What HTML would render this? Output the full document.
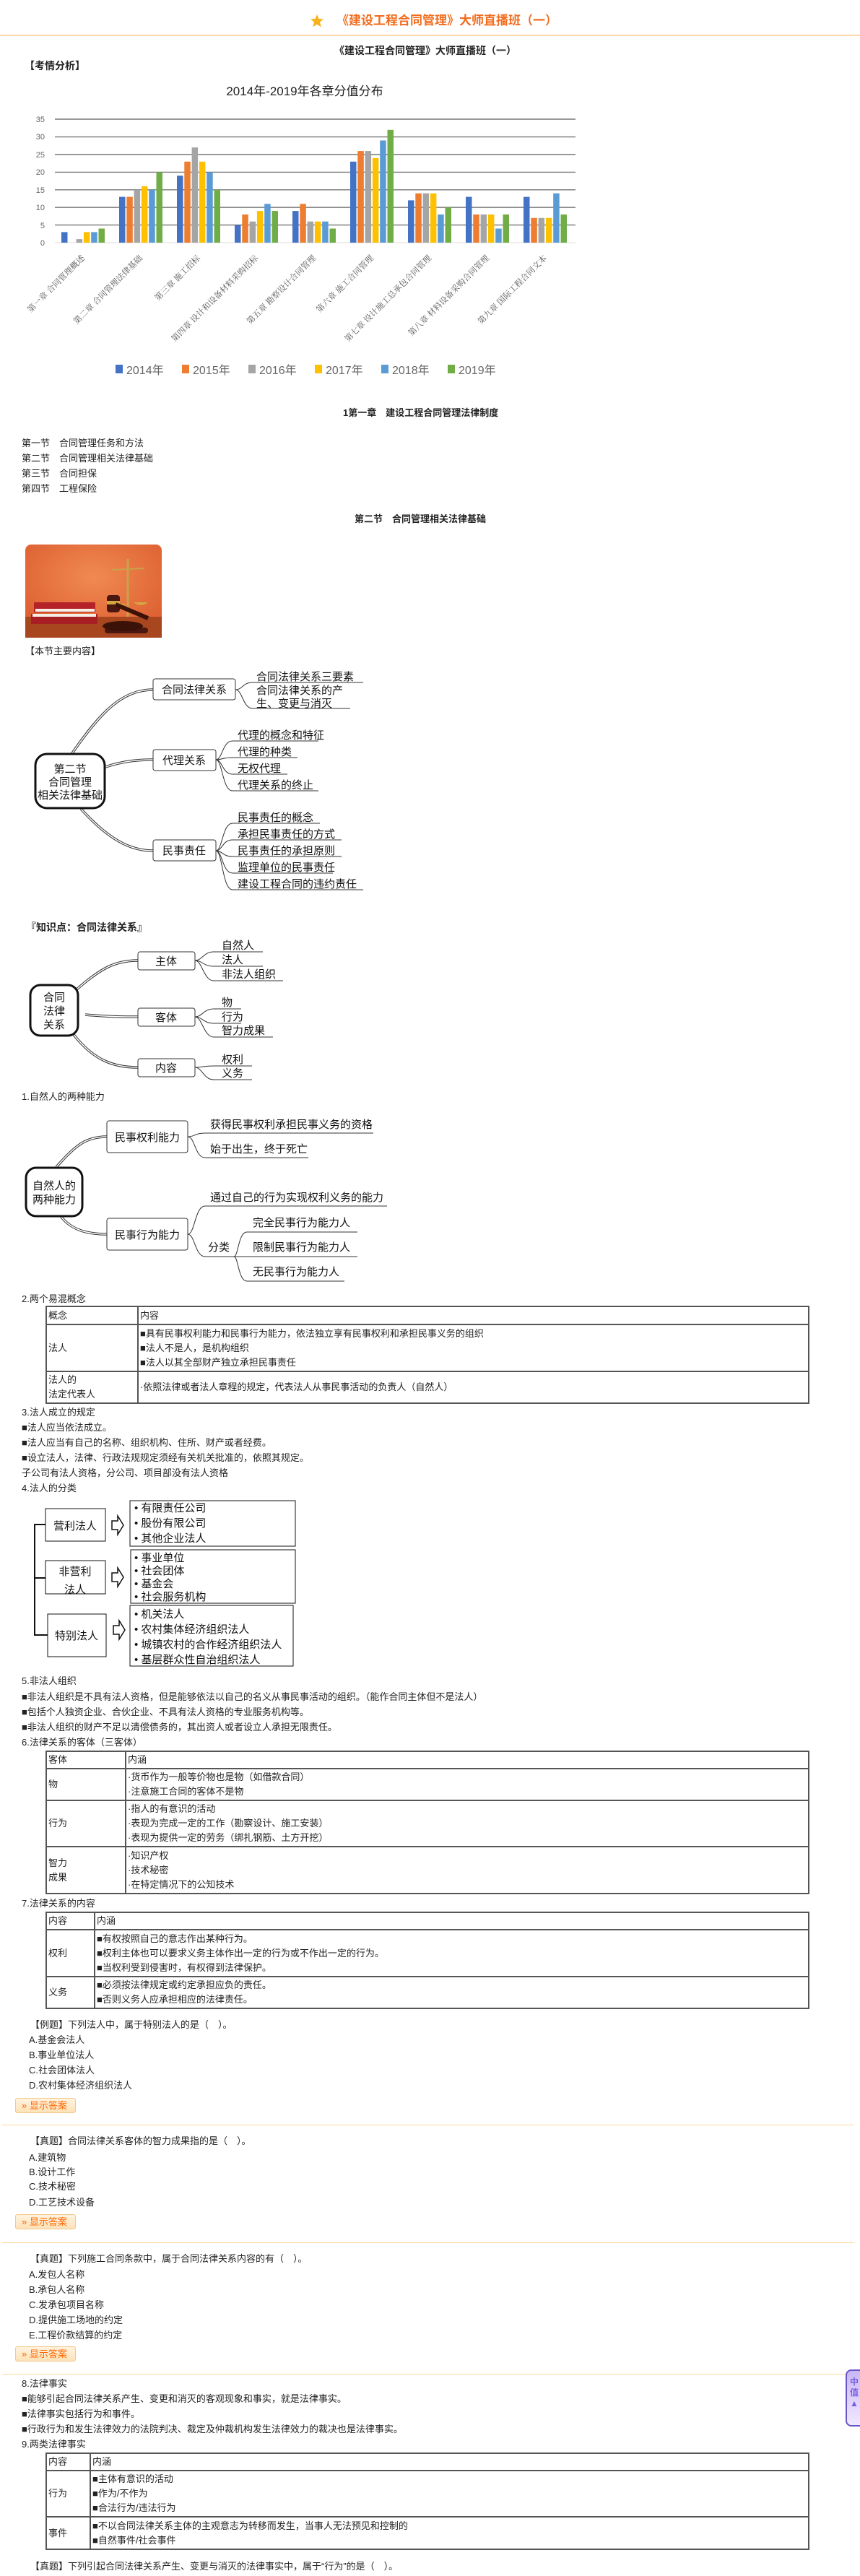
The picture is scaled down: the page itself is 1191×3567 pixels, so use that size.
<!DOCTYPE html>
<html><head><meta charset="utf-8">
<style>
*{margin:0;padding:0;box-sizing:border-box}
html,body{width:1191px;height:3567px;background:#fff;overflow:hidden}
body{position:relative;font-family:"Liberation Sans","Noto Sans CJK SC",sans-serif;color:#222}
.t{position:absolute;font-size:13px;line-height:18px;white-space:nowrap}
.b{font-weight:bold}
table{position:absolute;border-collapse:collapse;font-size:13px;line-height:20px}
td{border:2px solid #555;vertical-align:middle;padding:0 2px;white-space:nowrap}
.btn{position:absolute;width:84px;height:21px;border:1px solid #f3c88c;border-radius:3px;background:linear-gradient(#fff3df,#fde2b8);color:#f60;font-size:13px;line-height:19px;padding-left:8px}
.sep{position:absolute;left:3px;width:1180px;height:1px;background:#fdd9a0}
</style></head><body>

<svg style="position:absolute;left:429px;top:19px" width="20" height="20" viewBox="0 0 20 20"><polygon points="10,1 12.6,7 19,7.4 14,11.6 15.8,18.5 10,14.8 4.2,18.5 6,11.6 1,7.4 7.4,7" fill="#f7b21e"/></svg>
<div class="t b" style="left:466px;top:18px;font-size:17px;line-height:22px;color:#f36b1c">《建设工程合同管理》大师直播班（一）</div>
<div style="position:absolute;left:0;top:48px;width:1191px;height:2px;background:#fcd6a6"></div>
<div class="t b" style="left:463px;top:61px;font-size:14px;color:#222">《建设工程合同管理》大师直播班（一）</div>
<div class="t b" style="left:34px;top:82px;font-size:14px">【考情分析】</div>

<svg style="position:absolute;left:0;top:0" width="820" height="530" font-family="Liberation Sans,Noto Sans CJK SC,sans-serif">
<text x="422" y="132" font-size="17" text-anchor="middle" fill="#222">2014年-2019年各章分值分布</text>
<g stroke="#777" stroke-width="1.4">
<line x1="76" y1="165" x2="797" y2="165"/><line x1="76" y1="189.6" x2="797" y2="189.6"/>
<line x1="76" y1="214" x2="797" y2="214"/><line x1="76" y1="238.4" x2="797" y2="238.4"/>
<line x1="76" y1="262.8" x2="797" y2="262.8"/><line x1="76" y1="287.2" x2="797" y2="287.2"/>
<line x1="76" y1="311.6" x2="797" y2="311.6"/></g>
<line x1="76" y1="336" x2="797" y2="336" stroke="#ddd"/>
<g font-size="11" fill="#666" text-anchor="end">
<text x="62" y="169">35</text><text x="62" y="193">30</text><text x="62" y="218">25</text><text x="62" y="242">20</text><text x="62" y="267">15</text><text x="62" y="291">10</text><text x="62" y="316">5</text><text x="62" y="340">0</text></g>
<g font-size="11.5" fill="#555" font-family="Liberation Serif,Noto Serif CJK SC,serif" text-anchor="end">
<text transform="translate(118,358) rotate(-45)">第一章 合同管理概述</text>
<text transform="translate(198,358) rotate(-45)">第二章 合同管理法律基础</text>
<text transform="translate(278,358) rotate(-45)">第三章 施工招标</text>
<text transform="translate(358,358) rotate(-45)">第四章 设计和设备材料采购招标</text>
<text transform="translate(438,358) rotate(-45)">第五章 勘察设计合同管理</text>
<text transform="translate(518,358) rotate(-45)">第六章 施工合同管理</text>
<text transform="translate(598,358) rotate(-45)">第七章 设计施工总承包合同管理</text>
<text transform="translate(678,358) rotate(-45)">第八章 材料设备采购合同管理</text>
<text transform="translate(758,358) rotate(-45)">第九章 国际工程合同文本</text>
</g>
<g font-size="16" fill="#666">
<rect x="160" y="505" width="10" height="12" fill="#4472c4"/><text x="175" y="518">2014年</text>
<rect x="252" y="505" width="10" height="12" fill="#ed7d31"/><text x="267" y="518">2015年</text>
<rect x="344" y="505" width="10" height="12" fill="#a5a5a5"/><text x="359" y="518">2016年</text>
<rect x="436" y="505" width="10" height="12" fill="#ffc000"/><text x="451" y="518">2017年</text>
<rect x="528" y="505" width="10" height="12" fill="#5b9bd5"/><text x="543" y="518">2018年</text>
<rect x="620" y="505" width="10" height="12" fill="#70ad47"/><text x="635" y="518">2019年</text>
</g>
<g>
<rect x="85" y="321.4" width="8.5" height="14.6" fill="#4472c4"/><rect x="105.6" y="331.1" width="8.5" height="4.9" fill="#a5a5a5"/><rect x="115.9" y="321.4" width="8.5" height="14.6" fill="#ffc000"/><rect x="126.2" y="321.4" width="8.5" height="14.6" fill="#5b9bd5"/><rect x="136.5" y="316.5" width="8.5" height="19.5" fill="#70ad47"/>
<rect x="165" y="272.6" width="8.5" height="63.4" fill="#4472c4"/><rect x="175.3" y="272.6" width="8.5" height="63.4" fill="#ed7d31"/><rect x="185.6" y="262.8" width="8.5" height="73.2" fill="#a5a5a5"/><rect x="195.9" y="257.9" width="8.5" height="78.1" fill="#ffc000"/><rect x="206.2" y="262.8" width="8.5" height="73.2" fill="#5b9bd5"/><rect x="216.5" y="238.4" width="8.5" height="97.6" fill="#70ad47"/>
<rect x="245" y="243.3" width="8.5" height="92.7" fill="#4472c4"/><rect x="255.3" y="223.8" width="8.5" height="112.2" fill="#ed7d31"/><rect x="265.6" y="204.2" width="8.5" height="131.8" fill="#a5a5a5"/><rect x="275.9" y="223.8" width="8.5" height="112.2" fill="#ffc000"/><rect x="286.2" y="238.4" width="8.5" height="97.6" fill="#5b9bd5"/><rect x="296.5" y="262.8" width="8.5" height="73.2" fill="#70ad47"/>
<rect x="325" y="311.6" width="8.5" height="24.4" fill="#4472c4"/><rect x="335.3" y="297" width="8.5" height="39" fill="#ed7d31"/><rect x="345.6" y="306.7" width="8.5" height="29.3" fill="#a5a5a5"/><rect x="355.9" y="292.1" width="8.5" height="43.9" fill="#ffc000"/><rect x="366.2" y="282.3" width="8.5" height="53.7" fill="#5b9bd5"/><rect x="376.5" y="292.1" width="8.5" height="43.9" fill="#70ad47"/>
<rect x="405" y="292.1" width="8.5" height="43.9" fill="#4472c4"/><rect x="415.3" y="282.3" width="8.5" height="53.7" fill="#ed7d31"/><rect x="425.6" y="306.7" width="8.5" height="29.3" fill="#a5a5a5"/><rect x="435.9" y="306.7" width="8.5" height="29.3" fill="#ffc000"/><rect x="446.2" y="306.7" width="8.5" height="29.3" fill="#5b9bd5"/><rect x="456.5" y="316.5" width="8.5" height="19.5" fill="#70ad47"/>
<rect x="485" y="223.8" width="8.5" height="112.2" fill="#4472c4"/><rect x="495.3" y="209.1" width="8.5" height="126.9" fill="#ed7d31"/><rect x="505.6" y="209.1" width="8.5" height="126.9" fill="#a5a5a5"/><rect x="515.9" y="218.9" width="8.5" height="117.1" fill="#ffc000"/><rect x="526.2" y="194.5" width="8.5" height="141.5" fill="#5b9bd5"/><rect x="536.5" y="179.8" width="8.5" height="156.2" fill="#70ad47"/>
<rect x="565" y="277.4" width="8.5" height="58.6" fill="#4472c4"/><rect x="575.3" y="267.7" width="8.5" height="68.3" fill="#ed7d31"/><rect x="585.6" y="267.7" width="8.5" height="68.3" fill="#a5a5a5"/><rect x="595.9" y="267.7" width="8.5" height="68.3" fill="#ffc000"/><rect x="606.2" y="297" width="8.5" height="39" fill="#5b9bd5"/><rect x="616.5" y="287.2" width="8.5" height="48.8" fill="#70ad47"/>
<rect x="645" y="272.6" width="8.5" height="63.4" fill="#4472c4"/><rect x="655.3" y="297" width="8.5" height="39" fill="#ed7d31"/><rect x="665.6" y="297" width="8.5" height="39" fill="#a5a5a5"/><rect x="675.9" y="297" width="8.5" height="39" fill="#ffc000"/><rect x="686.2" y="316.5" width="8.5" height="19.5" fill="#5b9bd5"/><rect x="696.5" y="297" width="8.5" height="39" fill="#70ad47"/>
<rect x="725" y="272.6" width="8.5" height="63.4" fill="#4472c4"/><rect x="735.3" y="301.8" width="8.5" height="34.2" fill="#ed7d31"/><rect x="745.6" y="301.8" width="8.5" height="34.2" fill="#a5a5a5"/><rect x="755.9" y="301.8" width="8.5" height="34.2" fill="#ffc000"/><rect x="766.2" y="267.7" width="8.5" height="68.3" fill="#5b9bd5"/><rect x="776.5" y="297" width="8.5" height="39" fill="#70ad47"/>
</g>
</svg>

<div class="t b" style="left:475px;top:563px;font-size:13px">1第一章　建设工程合同管理法律制度</div>
<div class="t" style="left:30px;top:605px">第一节　合同管理任务和方法</div>
<div class="t" style="left:30px;top:626px">第二节　合同管理相关法律基础</div>
<div class="t" style="left:30px;top:647px">第三节　合同担保</div>
<div class="t" style="left:30px;top:668px">第四节　工程保险</div>
<div class="t b" style="left:491px;top:710px;font-size:13px">第二节　合同管理相关法律基础</div>

<svg style="position:absolute;left:35px;top:754px" width="189" height="129" viewBox="0 0 189 129">
<defs><radialGradient id="rg" cx="0.5" cy="0.35" r="0.8"><stop offset="0" stop-color="#f08a52"/><stop offset="1" stop-color="#d9562a"/></radialGradient></defs>
<rect width="189" height="129" rx="8" fill="url(#rg)"/>
<rect x="0" y="100" width="189" height="29" fill="#a8461f"/>
<rect x="8" y="96" width="92" height="14" fill="#a81f23"/><rect x="10" y="96" width="88" height="4" fill="#f4eee4"/>
<rect x="12" y="80" width="85" height="14" fill="#b52228"/><rect x="14" y="89" width="82" height="4" fill="#f4eee4"/>
<line x1="142" y1="20" x2="142" y2="100" stroke="#c9a24a" stroke-width="3"/>
<line x1="120" y1="35" x2="165" y2="33" stroke="#c9a24a" stroke-width="2"/>
<path d="M150 80 Q160 88 170 80 Z" fill="#d4a640"/>
<path d="M125 82 Q132 88 140 82" fill="#d4a640"/>
<rect x="110" y="115" width="60" height="8" rx="4" fill="#4a1810"/>
<rect x="113" y="70" width="18" height="24" rx="4" fill="#4a1810"/><rect x="113" y="78" width="18" height="5" fill="#d4a640"/>
<line x1="125" y1="83" x2="170" y2="102" stroke="#3a1208" stroke-width="6"/>
<ellipse cx="135" cy="113" rx="28" ry="7" fill="#3a1208"/>
</svg>
<div class="t" style="left:35px;top:893px;font-size:13px">【本节主要内容】</div>

<svg style="position:absolute;left:0;top:920px" width="560" height="330" font-family="Liberation Sans,Noto Sans CJK SC,sans-serif">
<g transform="translate(0,-920)" fill="none">
<g stroke="#333" stroke-width="3.5"><path d="M100 1043 C140 985,170 955,212 955"/><path d="M146 1062 C170 1054,190 1052,212 1052"/><path d="M112 1120 C150 1162,180 1178,212 1178"/></g>
<g stroke="#fff" stroke-width="1.5"><path d="M100 1043 C140 985,170 955,212 955"/><path d="M146 1062 C170 1054,190 1052,212 1052"/><path d="M112 1120 C150 1162,180 1178,212 1178"/></g>
<g stroke="#333" stroke-width="1">
<path d="M326 955 C336 955,336 945,350 945 L503 945"/><path d="M326 955 C336 955,336 981,350 981 L485 981"/>
<path d="M299 1052 C308 1052,308 1026,322 1026 L441 1026"/><path d="M299 1052 C308 1052,308 1049,322 1049 L412 1049"/><path d="M299 1052 C308 1052,308 1072,322 1072 L398 1072"/><path d="M299 1052 C308 1052,308 1095,322 1095 L441 1095"/>
<path d="M299 1178 C308 1178,308 1140,322 1140 L443 1140"/><path d="M299 1178 C308 1178,308 1163,322 1163 L473 1163"/><path d="M299 1178 C308 1178,308 1186,322 1186 L473 1186"/><path d="M299 1178 C308 1178,308 1209,322 1209 L461 1209"/><path d="M299 1178 C308 1178,308 1232,322 1232 L503 1232"/>
</g>
<rect x="49" y="1044" width="96" height="75" rx="16" stroke="#111" stroke-width="3" fill="#fff"/>
<rect x="212" y="940" width="114" height="29" rx="3" stroke="#333" fill="#fff"/>
<rect x="212" y="1038" width="87" height="29" rx="3" stroke="#333" fill="#fff"/>
<rect x="212" y="1163" width="87" height="29" rx="3" stroke="#333" fill="#fff"/>
</g>
<g font-size="15" fill="#111" transform="translate(0,-920)">
<text x="97" y="1070" text-anchor="middle">第二节</text><text x="97" y="1088" text-anchor="middle">合同管理</text><text x="97" y="1106" text-anchor="middle">相关法律基础</text>
<text x="269" y="960" text-anchor="middle">合同法律关系</text><text x="255" y="1058" text-anchor="middle">代理关系</text><text x="255" y="1183" text-anchor="middle">民事责任</text>
<text x="355" y="942">合同法律关系三要素</text><text x="355" y="961">合同法律关系的产</text><text x="355" y="979">生、变更与消灭</text>
<text x="329" y="1023">代理的概念和特征</text><text x="329" y="1046">代理的种类</text><text x="329" y="1069">无权代理</text><text x="329" y="1092">代理关系的终止</text>
<text x="329" y="1137">民事责任的概念</text><text x="329" y="1160">承担民事责任的方式</text><text x="329" y="1183">民事责任的承担原则</text><text x="329" y="1206">监理单位的民事责任</text><text x="329" y="1229">建设工程合同的违约责任</text>
</g>
</svg>

<div class="t b" style="left:36px;top:1275px;font-size:14px">『知识点：合同法律关系』</div>
<svg style="position:absolute;left:0;top:1290px" width="420" height="215" font-family="Liberation Sans,Noto Sans CJK SC,sans-serif">
<g transform="translate(0,-1290)" fill="none">
<g stroke="#333" stroke-width="3.5"><path d="M104 1372 C140 1340,160 1330,191 1330"/><path d="M118 1405 C150 1408,170 1408,191 1408"/><path d="M100 1430 C130 1470,160 1478,191 1478"/></g>
<g stroke="#fff" stroke-width="1.5"><path d="M104 1372 C140 1340,160 1330,191 1330"/><path d="M118 1405 C150 1408,170 1408,191 1408"/><path d="M100 1430 C130 1470,160 1478,191 1478"/></g>
<g stroke="#333" stroke-width="1">
<path d="M270 1330 C280 1330,282 1318,296 1318 L364 1318"/><path d="M270 1330 C280 1330,282 1338,296 1338 L364 1338"/><path d="M270 1330 C280 1330,282 1358,296 1358 L392 1358"/>
<path d="M270 1408 C280 1408,282 1397,296 1397 L334 1397"/><path d="M270 1408 C280 1408,282 1417,296 1417 L334 1417"/><path d="M270 1408 C280 1408,282 1436,296 1436 L378 1436"/>
<path d="M270 1478 C280 1478,282 1476,296 1476 L349 1476"/><path d="M270 1478 C280 1478,282 1495,296 1495 L349 1495"/>
</g>
<rect x="42" y="1364" width="66" height="70" rx="14" stroke="#111" stroke-width="3" fill="#fff"/>
<rect x="191" y="1318" width="79" height="25" rx="3" stroke="#333" fill="#fff"/>
<rect x="191" y="1396" width="79" height="25" rx="3" stroke="#333" fill="#fff"/>
<rect x="191" y="1466" width="79" height="25" rx="3" stroke="#333" fill="#fff"/>
</g>
<g font-size="15" fill="#111" transform="translate(0,-1290)">
<text x="60" y="1386">合同</text><text x="60" y="1405">法律</text><text x="60" y="1424">关系</text>
<text x="230" y="1336" text-anchor="middle">主体</text><text x="230" y="1414" text-anchor="middle">客体</text><text x="230" y="1484" text-anchor="middle">内容</text>
<text x="307" y="1314">自然人</text><text x="307" y="1334">法人</text><text x="307" y="1354">非法人组织</text>
<text x="307" y="1393">物</text><text x="307" y="1413">行为</text><text x="307" y="1432">智力成果</text>
<text x="307" y="1472">权利</text><text x="307" y="1491">义务</text>
</g>
</svg>

<div class="t" style="left:30px;top:1510px">1.自然人的两种能力</div>
<svg style="position:absolute;left:0;top:1540px" width="560" height="245" font-family="Liberation Sans,Noto Sans CJK SC,sans-serif">
<g transform="translate(0,-1540)" fill="none">
<g stroke="#333" stroke-width="3.5"><path d="M78 1616 C105 1585,120 1574,148 1574"/><path d="M84 1684 C100 1705,125 1709,148 1709"/></g>
<g stroke="#fff" stroke-width="1.5"><path d="M78 1616 C105 1585,120 1574,148 1574"/><path d="M84 1684 C100 1705,125 1709,148 1709"/></g>
<g stroke="#333" stroke-width="1">
<path d="M260 1574 C270 1574,270 1569,284 1569 L517 1569"/><path d="M260 1574 C270 1574,270 1603,284 1603 L427 1603"/>
<path d="M260 1709 C270 1709,270 1670,284 1670 L536 1670"/><path d="M260 1709 C270 1709,270 1740,284 1740 L337 1740"/>
<path d="M324 1740 C330 1740,330 1706,342 1706 L495 1706"/><path d="M324 1740 L495 1740"/><path d="M324 1740 C330 1740,330 1774,342 1774 L477 1774"/>
</g>
<rect x="36" y="1617" width="78" height="67" rx="14" stroke="#111" stroke-width="3" fill="#fff"/>
<rect x="148" y="1552" width="112" height="44" rx="3" stroke="#333" fill="#fff"/>
<rect x="148" y="1687" width="112" height="44" rx="3" stroke="#333" fill="#fff"/>
</g>
<g font-size="15" fill="#111" transform="translate(0,-1540)">
<text x="45" y="1647">自然人的</text><text x="45" y="1666">两种能力</text>
<text x="204" y="1580" text-anchor="middle">民事权利能力</text><text x="204" y="1715" text-anchor="middle">民事行为能力</text>
<text x="291" y="1562">获得民事权利承担民事义务的资格</text><text x="291" y="1596">始于出生，终于死亡</text>
<text x="291" y="1663">通过自己的行为实现权利义务的能力</text><text x="288" y="1732">分类</text>
<text x="350" y="1698">完全民事行为能力人</text><text x="350" y="1732">限制民事行为能力人</text><text x="350" y="1766">无民事行为能力人</text>
</g>
</svg>

<div class="t" style="left:30px;top:1790px">2.两个易混概念</div>
<table style="left:63px;top:1808px;width:1058px">
<tr style="height:25px"><td style="width:127px">概念</td><td>内容</td></tr>
<tr style="height:65px"><td>法人</td><td>■具有民事权利能力和民事行为能力，依法独立享有民事权利和承担民事义务的组织<br>■法人不是人，是机构组织<br>■法人以其全部财产独立承担民事责任</td></tr>
<tr style="height:44px"><td>法人的<br>法定代表人</td><td>·依照法律或者法人章程的规定，代表法人从事民事活动的负责人（自然人）</td></tr>
</table>

<div class="t" style="left:30px;top:1947px">3.法人成立的规定</div>
<div class="t" style="left:30px;top:1968px">■法人应当依法成立。</div>
<div class="t" style="left:30px;top:1989px">■法人应当有自己的名称、组织机构、住所、财产或者经费。</div>
<div class="t" style="left:30px;top:2010px">■设立法人，法律、行政法规规定须经有关机关批准的，依照其规定。</div>
<div class="t" style="left:30px;top:2031px">子公司有法人资格，分公司、项目部没有法人资格</div>
<div class="t" style="left:30px;top:2052px">4.法人的分类</div>

<svg style="position:absolute;left:40px;top:2070px" width="380" height="245" font-family="Liberation Sans,Noto Sans CJK SC,sans-serif">
<g transform="translate(-40,-2070)">
<path d="M63 2111 H48 V2264 H66 M48 2185 H63" fill="none" stroke="#111" stroke-width="2"/>
<rect x="63" y="2089" width="83" height="45" fill="#fff" stroke="#111"/>
<rect x="63" y="2161" width="83" height="46" fill="#fff" stroke="#111"/>
<rect x="66" y="2235" width="81" height="59" fill="#fff" stroke="#111"/>
<g fill="#fff" stroke="#111" stroke-width="1.5">
<path d="M155 2106 H163 V2099 L171 2112 L163 2125 V2118 H155 Z"/>
<path d="M155 2178 H163 V2171 L171 2184 L163 2197 V2190 H155 Z"/>
<path d="M157 2251 H165 V2244 L173 2257 L165 2270 V2263 H157 Z"/>
</g>
<rect x="180" y="2078" width="229" height="63" fill="#fff" stroke="#111"/>
<rect x="181" y="2146" width="228" height="74" fill="#fff" stroke="#111"/>
<rect x="180" y="2223" width="226" height="84" fill="#fff" stroke="#111"/>
<g font-size="15" fill="#111">
<text x="104" y="2118" text-anchor="middle">营利法人</text>
<text x="104" y="2181" text-anchor="middle">非营利</text><text x="104" y="2206" text-anchor="middle">法人</text>
<text x="106" y="2270" text-anchor="middle">特别法人</text>
<text x="186" y="2093">• 有限责任公司</text><text x="186" y="2114">• 股份有限公司</text><text x="186" y="2135">• 其他企业法人</text>
<text x="186" y="2162">• 事业单位</text><text x="186" y="2180">• 社会团体</text><text x="186" y="2198">• 基金会</text><text x="186" y="2216">• 社会服务机构</text>
<text x="186" y="2240">• 机关法人</text><text x="186" y="2261">• 农村集体经济组织法人</text><text x="186" y="2282">• 城镇农村的合作经济组织法人</text><text x="186" y="2303">• 基层群众性自治组织法人</text>
</g></g>
</svg>

<div class="t" style="left:30px;top:2319px">5.非法人组织</div>
<div class="t" style="left:30px;top:2341px">■非法人组织是不具有法人资格，但是能够依法以自己的名义从事民事活动的组织。（能作合同主体但不是法人）</div>
<div class="t" style="left:30px;top:2362px">■包括个人独资企业、合伙企业、不具有法人资格的专业服务机构等。</div>
<div class="t" style="left:30px;top:2383px">■非法人组织的财产不足以清偿债务的，其出资人或者设立人承担无限责任。</div>
<div class="t" style="left:30px;top:2404px">6.法律关系的客体（三客体）</div>
<table style="left:63px;top:2424px;width:1058px">
<tr style="height:24px"><td style="width:110px">客体</td><td>内涵</td></tr>
<tr style="height:44px"><td>物</td><td>·货币作为一般等价物也是物（如借款合同）<br>·注意施工合同的客体不是物</td></tr>
<tr style="height:64px"><td>行为</td><td>·指人的有意识的活动<br>·表现为完成一定的工作（勘察设计、施工安装）<br>·表现为提供一定的劳务（绑扎钢筋、土方开挖）</td></tr>
<tr style="height:65px"><td>智力<br>成果</td><td>·知识产权<br>·技术秘密<br>·在特定情况下的公知技术</td></tr>
</table>
<div class="t" style="left:30px;top:2627px">7.法律关系的内容</div>
<table style="left:63px;top:2647px;width:1058px">
<tr style="height:24px"><td style="width:67px">内容</td><td>内涵</td></tr>
<tr style="height:65px"><td>权利</td><td>■有权按照自己的意志作出某种行为。<br>■权利主体也可以要求义务主体作出一定的行为或不作出一定的行为。<br>■当权利受到侵害时，有权得到法律保护。</td></tr>
<tr style="height:44px"><td>义务</td><td>■必须按法律规定或约定承担应负的责任。<br>■否则义务人应承担相应的法律责任。</td></tr>
</table>

<div class="t" style="left:42px;top:2795px">【例题】下列法人中，属于特别法人的是（　）。</div>
<div class="t" style="left:40px;top:2816px">A.基金会法人</div>
<div class="t" style="left:40px;top:2837px">B.事业单位法人</div>
<div class="t" style="left:40px;top:2858px">C.社会团体法人</div>
<div class="t" style="left:40px;top:2879px">D.农村集体经济组织法人</div>
<div class="btn" style="left:21px;top:2905px">»&nbsp;显示答案</div>
<div class="sep" style="top:2942px"></div>

<div class="t" style="left:42px;top:2956px">【真题】合同法律关系客体的智力成果指的是（　）。</div>
<div class="t" style="left:40px;top:2979px">A.建筑物</div>
<div class="t" style="left:40px;top:2999px">B.设计工作</div>
<div class="t" style="left:40px;top:3019px">C.技术秘密</div>
<div class="t" style="left:40px;top:3041px">D.工艺技术设备</div>
<div class="btn" style="left:21px;top:3066px">»&nbsp;显示答案</div>
<div class="sep" style="top:3105px"></div>

<div class="t" style="left:42px;top:3119px">【真题】下列施工合同条款中，属于合同法律关系内容的有（　）。</div>
<div class="t" style="left:40px;top:3141px">A.发包人名称</div>
<div class="t" style="left:40px;top:3162px">B.承包人名称</div>
<div class="t" style="left:40px;top:3183px">C.发承包项目名称</div>
<div class="t" style="left:40px;top:3204px">D.提供施工场地的约定</div>
<div class="t" style="left:40px;top:3225px">E.工程价款结算的约定</div>
<div class="btn" style="left:21px;top:3249px">»&nbsp;显示答案</div>
<div class="sep" style="top:3287px"></div>

<div style="position:absolute;left:1171px;top:3281px;width:24px;height:79px;border:2px solid #6a55c8;border-radius:8px 0 0 8px;background:linear-gradient(#c9b8f5,#f0e8ff);color:#7a5ee0;font-size:12px;font-weight:bold;line-height:15px;padding:8px 0 0 4px">中<br>值<br>▲</div>

<div class="t" style="left:30px;top:3292px">8.法律事实</div>
<div class="t" style="left:30px;top:3313px">■能够引起合同法律关系产生、变更和消灭的客观现象和事实，就是法律事实。</div>
<div class="t" style="left:30px;top:3334px">■法律事实包括行为和事件。</div>
<div class="t" style="left:30px;top:3355px">■行政行为和发生法律效力的法院判决、裁定及仲裁机构发生法律效力的裁决也是法律事实。</div>
<div class="t" style="left:30px;top:3376px">9.两类法律事实</div>
<table style="left:63px;top:3396px;width:1058px">
<tr style="height:24px"><td style="width:61px">内容</td><td>内涵</td></tr>
<tr style="height:64px"><td>行为</td><td>■主体有意识的活动<br>■作为/不作为<br>■合法行为/违法行为</td></tr>
<tr style="height:45px"><td>事件</td><td>■不以合同法律关系主体的主观意志为转移而发生，当事人无法预见和控制的<br>■自然事件/社会事件</td></tr>
</table>
<div class="t" style="left:42px;top:3545px">【真题】下列引起合同法律关系产生、变更与消灭的法律事实中，属于“行为”的是（　）。</div>
</body></html>
